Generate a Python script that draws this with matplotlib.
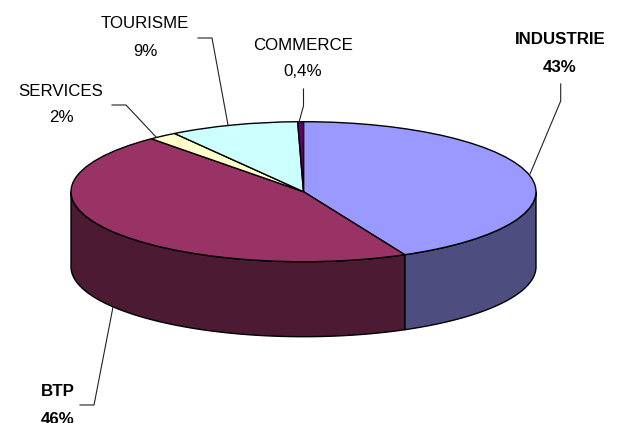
import numpy as np
import matplotlib
matplotlib.use("Agg")
import matplotlib.pyplot as plt
from matplotlib.patches import Polygon
from matplotlib.lines import Line2D

plt.rcParams['font.family'] = ['Liberation Sans', 'DejaVu Sans']

categories = ["INDUSTRIE", "BTP", "SERVICES", "TOURISME", "COMMERCE"]
values = [43, 46, 2, 9, 0.4]
value_labels = ["43%", "46%", "2%", "9%", "0,4%"]
top_colors = ["#9999FF", "#993366", "#FFFFCC", "#CCFFFF", "#660066"]
side_colors = ["#4D4D80", "#4D1A33", "#808066", "#668080", "#330033"]

W, H = 619, 423
CX, CY, A, B, DEPTH = 303.5, 191.7, 232.5, 70.0, 75.0

fig = plt.figure(figsize=(W / 100, H / 100), dpi=100, facecolor="white")
ax = fig.add_axes([0, 0, 1, 1])

# Top face: a real pie, stretched to an ellipse by the axes limits
wedges, _ = ax.pie(values, colors=top_colors, startangle=90, counterclock=False,
                   radius=1, wedgeprops=dict(edgecolor="black", linewidth=1.0, zorder=5))
ax.set_aspect("auto")
ax.set_xlim(-CX / A, (W - CX) / A)
ax.set_ylim((CY - H) / B, CY / B)
ax.axis("off")

# Side wall, built from the same values
d = DEPTH / B
fracs = np.array(values) / sum(values)
edges = 90 - 360 * np.concatenate([[0], np.cumsum(fracs)])
for i in range(len(values)):
    t0, t1 = edges[i], edges[i + 1]          # clockwise: t0 > t1
    lo, hi = max(t1, -180), min(t0, 0)       # visible lower half, -180..0
    if hi > lo:
        t = np.radians(np.linspace(hi, lo, 120))
        x, y = np.cos(t), np.sin(t)
        pts = np.r_[np.c_[x, y], np.c_[x[::-1], y[::-1] - d]]
        ax.add_patch(Polygon(pts, closed=True, facecolor=side_colors[i],
                             edgecolor="black", linewidth=1.0, zorder=3))


def fx(px):
    return px / W


def fy(py):
    return 1 - py / H


def label(name, val, xc, y1, y2, bold=False):
    w = "bold" if bold else "normal"
    for s, yy in ((name, y1), (val, y2)):
        fig.text(fx(xc), fy(yy), s, ha="center", va="center", fontsize=12.2,
                 fontweight=w, color="black")


def leader(xs, ys):
    fig.add_artist(Line2D([fx(v) for v in xs], [fy(v) for v in ys],
                          color="#222222", linewidth=0.8, zorder=6))


label(categories[0], value_labels[0], 560, 39, 67, bold=True)
label(categories[1], value_labels[1], 58, 391, 419, bold=True)
label(categories[2], value_labels[2], 61, 92, 118)
label(categories[3], value_labels[3], 145, 24, 52)
label(categories[4], value_labels[4], 303, 45, 72)

leader([560.7, 560.7, 530], [84, 101, 174])
leader([80, 94, 113], [405, 405, 307])
leader([112, 126, 156], [105, 105, 137])
leader([198, 212, 228], [38, 38, 125])
leader([303.5, 303.5, 299], [89, 106, 122])

fig.savefig("out.png", dpi=100, facecolor="white")
